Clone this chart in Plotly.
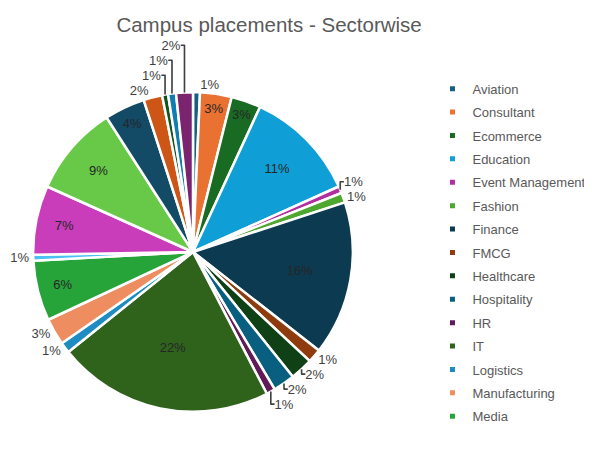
import plotly.graph_objects as go

sectors = ["Aviation", "Consultant", "Ecommerce", "Education", "Event Management",
           "Fashion", "Finance", "FMCG", "Healthcare", "Hospitality", "HR", "IT",
           "Logistics", "Manufacturing", "Media", "NGO", "Pharma", "Real Estate",
           "Retail", "Sales", "Telecom", "Textile", "Travel"]
shares = [0.7, 3.2, 3.0, 11.4, 0.7, 1.0, 15.6, 1.4, 2.3, 2.2, 0.9, 21.9,
          1.1, 2.7, 6.1, 0.6, 7.0, 9.2, 4.1, 1.9, 0.6, 0.8, 1.7]
colors = ["#156082", "#E97132", "#196B24", "#0F9ED5", "#B02FA0", "#4EA72E",
          "#0C3A50", "#8E3B0E", "#0F4016", "#095F80", "#601A58", "#2F631C",
          "#1E8CC2", "#EE8D60", "#26A43A", "#4CC0F0", "#C93DBB", "#67C947",
          "#134A66", "#CD5516", "#14541C", "#0F7DB0", "#7A2470"]
text_pos = ["outside", "inside", "inside", "inside", "outside", "outside",
            "inside", "outside", "outside", "outside", "outside", "inside",
            "outside", "outside", "inside", "outside", "inside", "inside",
            "inside", "outside", "outside", "outside", "outside"]
legend_count = 15

FONT = "Arial, Liberation Sans, sans-serif"

fig = go.Figure()
fig.add_trace(go.Pie(
    labels=sectors, values=shares, sort=False, direction="clockwise", rotation=0,
    marker=dict(colors=colors, line=dict(color="white", width=2.5)),
    texttemplate="%{percent:.0%}", textposition=text_pos,
    insidetextorientation="horizontal",
    textfont=dict(family=FONT, size=13, color="#404040"),
    outsidetextfont=dict(family=FONT, size=13, color="#404040"),
    insidetextfont=dict(family=FONT, size=13, color="#262626"),
    domain=dict(x=[0.0425, 0.5825], y=[0.1018, 0.8138]),
    showlegend=False, automargin=False,
))

for name, col in zip(sectors[:legend_count], colors[:legend_count]):
    fig.add_trace(go.Scatter(
        x=[None], y=[None], mode="markers", name=name, legendgroup=name,
        marker=dict(symbol="square", size=5, color=col),
    ))

fig.update_layout(
    width=592, height=450,
    margin=dict(l=0, r=0, t=0, b=0, autoexpand=False),
    paper_bgcolor="white", plot_bgcolor="white",
    title=dict(text="Campus placements - Sectorwise", x=0.441, xanchor="center",
               y=0.962, yanchor="middle",
               font=dict(family=FONT, size=20.5, color="#595959")),
    xaxis=dict(visible=False), yaxis=dict(visible=False),
    legend=dict(x=0.717, xanchor="left", y=0.854, yanchor="top",
                font=dict(family=FONT, size=13, color="#595959"),
                tracegroupgap=3.5, itemwidth=30, bgcolor="rgba(0,0,0,0)"),
)

fig.write_html("out.html")
